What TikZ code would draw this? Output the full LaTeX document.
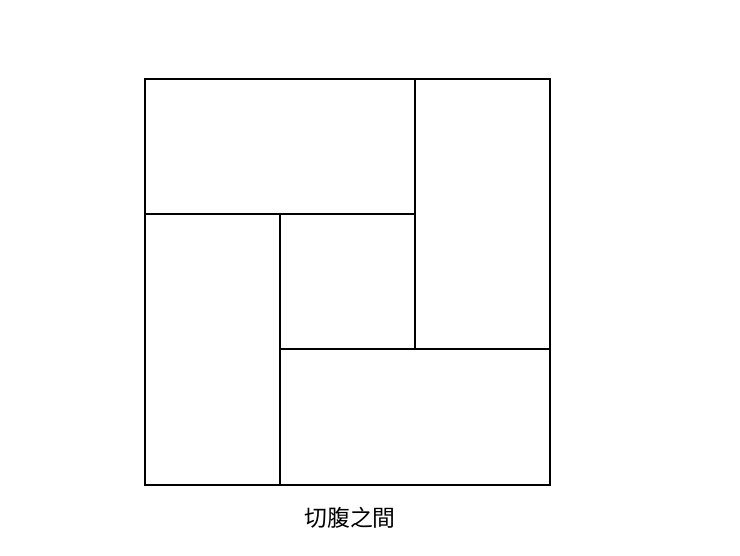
\documentclass[tikz,border=0pt]{standalone}
\usepackage{fontspec}
\usepackage{tikz}
\newfontfamily\cjk{Noto Sans CJK TC}

\begin{document}
\begin{tikzpicture}
\useasboundingbox (0,0) rectangle (7.40,5.55);
\tikzset{mat/.style={black, line width=0.02cm}}
\draw[mat] (1.45,4.76) rectangle (4.15,3.41);
\draw[mat] (4.15,4.76) rectangle (5.50,2.06);
\draw[mat] (2.80,3.41) rectangle (4.15,2.06);
\draw[mat] (1.45,3.41) rectangle (2.80,0.70);
\draw[mat] (2.80,2.06) rectangle (5.50,0.70);

\node (room) at (3.50,0.37) {\cjk\fontsize{6.5}{7}\selectfont 切腹之間};

\end{tikzpicture}
\end{document}
